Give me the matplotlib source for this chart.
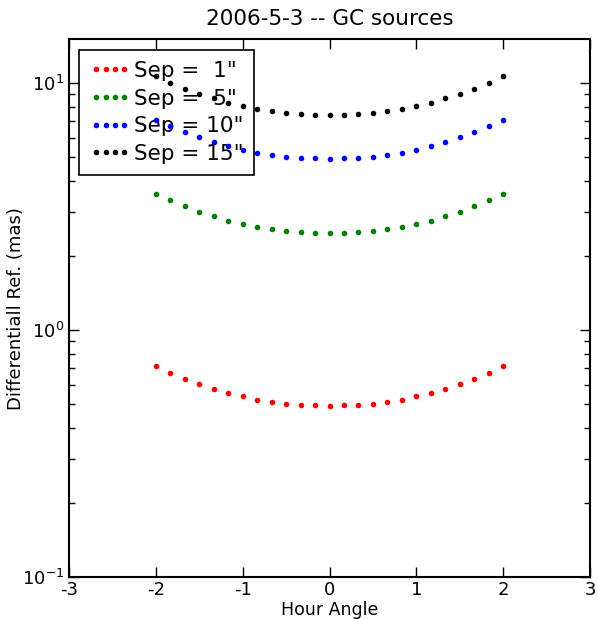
import matplotlib
matplotlib.use("Agg")
import matplotlib.pyplot as plt

hour_angle = [-2.0, -1.8333, -1.6667, -1.5, -1.3333, -1.1667, -1.0, -0.8333, -0.6667, -0.5,
              -0.3333, -0.1667, 0.0, 0.1667, 0.3333, 0.5, 0.6667, 0.8333, 1.0, 1.1667,
              1.3333, 1.5, 1.6667, 1.8333, 2.0]

sep_1 = [0.712, 0.670, 0.631, 0.602, 0.577, 0.555, 0.538, 0.522, 0.511, 0.503, 0.498, 0.495, 0.494,
         0.495, 0.498, 0.503, 0.511, 0.522, 0.538, 0.555, 0.577, 0.602, 0.631, 0.670, 0.712]
sep_5 = [3.55, 3.34, 3.16, 3.00, 2.88, 2.77, 2.68, 2.61, 2.55, 2.51, 2.48, 2.46, 2.46,
         2.46, 2.48, 2.51, 2.55, 2.61, 2.68, 2.77, 2.88, 3.00, 3.16, 3.34, 3.55]
sep_10 = [7.08, 6.68, 6.30, 6.01, 5.76, 5.55, 5.37, 5.22, 5.10, 5.02, 4.97, 4.94, 4.92,
          4.94, 4.97, 5.02, 5.10, 5.22, 5.37, 5.55, 5.76, 6.01, 6.30, 6.68, 7.08]
sep_15 = [10.65, 10.00, 9.47, 9.02, 8.64, 8.30, 8.05, 7.84, 7.67, 7.55, 7.47, 7.43, 7.42,
          7.43, 7.47, 7.55, 7.67, 7.84, 8.05, 8.30, 8.64, 9.02, 9.47, 10.00, 10.65]

labels = ['Sep =  1"', 'Sep =  5"', 'Sep = 10"', 'Sep = 15"']
colors = ['#ff0000', '#008000', '#0000ff', '#000000']
series = [sep_1, sep_5, sep_10, sep_15]

plt.rcParams['font.family'] = ['DejaVu Sans']

fig = plt.figure(figsize=(5.98, 6.19), dpi=100)
ax = fig.add_axes([69/598, 1-577/619, 521/598, (577-39.3)/619])

for vals, c, lab in zip(series, colors, labels):
    ax.plot(hour_angle, vals, linestyle='none', marker='.', color=c, markersize=6,
            label=lab, zorder=3)

ax.set_yscale('log')
ax.set_xlim(-3, 3)
ax.set_ylim(0.1, 15)
ax.set_xticks([-3, -2, -1, 0, 1, 2, 3])
ax.set_xticklabels(['-3', '-2', '-1', '0', '1', '2', '3'])

ax.tick_params(which='both', direction='in', top=True, right=True, labelsize=13)
ax.tick_params(which='major', length=7, width=1)
ax.tick_params(which='minor', length=4, width=1)
ax.tick_params(axis='x', pad=3)
for s in ax.spines.values():
    s.set_linewidth(1.5)

ax.set_title('2006-5-3 -- GC sources', fontsize=15.5, pad=10)
ax.set_xlabel('Hour Angle', fontsize=12.5, labelpad=1)
ax.set_ylabel('Differentiall Ref. (mas)', fontsize=13)
ax.yaxis.set_label_coords((25 - 69) / 521, 0.5)

leg = ax.legend(loc='upper left', bbox_to_anchor=(10/521, (577-50)/537.7), borderaxespad=0,
                numpoints=4, fontsize=15.5, fancybox=False, framealpha=1, handlelength=1.9,
                handletextpad=0.15, labelspacing=0.36, borderpad=0.5)
leg.get_frame().set_edgecolor('black')
leg.get_frame().set_linewidth(1.2)
leg.set_zorder(1)

fig.savefig('out.png', dpi=100)
